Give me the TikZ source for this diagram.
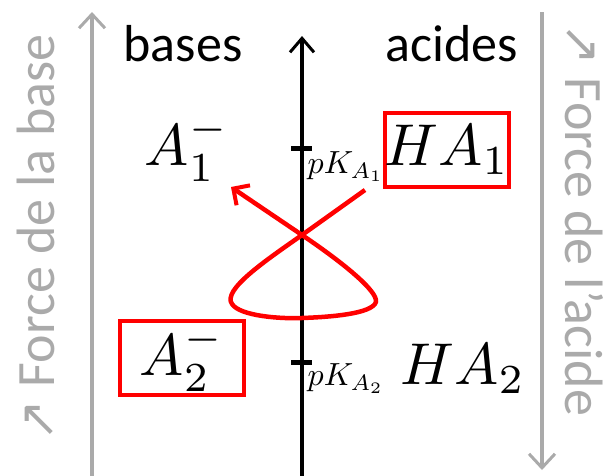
\documentclass[tikz,border=0pt]{standalone}
\usepackage{graphicx}
\usepackage{fontspec}
\setmainfont{Carlito}
\newfontfamily\arrowfont{DejaVu Sans}
\usetikzlibrary{arrows.meta}
\definecolor{axgray}{RGB}{170,170,170}
\definecolor{myred}{RGB}{255,0,0}
\newcommand{\speciesmath}[1]{\scalebox{5.9}{$#1$}}
\newcommand{\pkmath}[1]{\scalebox{3.2}{$#1$}}
\begin{document}
\begin{tikzpicture}[x=1pt,y=-1pt,
  lbl/.style={font=\fontsize{52}{60}\selectfont, inner sep=0pt},
  mth/.style={inner sep=0pt},
  pk/.style={inner sep=0pt},
  side/.style={font=\fontsize{54}{60}\selectfont, text=axgray, inner sep=0pt},
  redbox/.style={draw=myred, line width=4pt, minimum width=124pt, minimum height=74pt, inner sep=0pt},
  grayarrow/.style={draw=axgray, line width=4pt, -{Straight Barb[length=14pt,width=26pt,line width=3pt]}},
  blackarrow/.style={draw=black, line width=4pt, -{Straight Barb[length=14pt,width=24pt,line width=3pt]}},
  tick/.style={draw=black, line width=5pt},
  loop/.style={draw=myred, line width=4.5pt, line join=round, -{Straight Barb[length=12pt,width=24pt,line width=4pt]}}
]
\useasboundingbox (0,0) rectangle (611,475);
% grey arrows
\coordinate (lb) at (92,476);
\coordinate (lt) at (92,12);
\coordinate (rt) at (542,12);
\coordinate (rb) at (542,470);
\draw[grayarrow] (lb) -- (lt);
\draw[grayarrow] (rt) -- (rb);
% side labels
\node[side, rotate=90] (fbase) at (36,238) {{\arrowfont\fontsize{50}{56}\selectfont ↗} Force de la base};
\node[side, rotate=-90] (facide) at (584,220) {{\arrowfont\fontsize{50}{56}\selectfont ↗} Force de l’acide};
% central axis
\coordinate (ab) at (302,476);
\coordinate (at) at (302,36);
\draw[blackarrow] (ab) -- (at);
\coordinate (t1l) at (291,148);
\coordinate (t1r) at (312,148);
\coordinate (t2l) at (291,362);
\coordinate (t2r) at (312,362);
\draw[tick] (t1l) -- (t1r);
\draw[tick] (t2l) -- (t2r);
% headings
\node[lbl] (bases) at (183,44) {bases};
\node[lbl] (acides) at (452,44) {acides};
% species
\node[mth] (A1) at (187,148) {\speciesmath{A_1^-}};
\node[redbox, mth] (HA1) at (447,150) {\speciesmath{HA_1}};
\node[pk] (pK1) at (346,167) {\pkmath{pK_{A_1}}};
\node[redbox, mth] (A2) at (182,358) {\speciesmath{A_2^-}};
\node[mth] (HA2) at (463,369) {\speciesmath{HA_2}};
\node[pk] (pK2) at (346,379) {\pkmath{pK_{A_2}}};
% red loop
\coordinate (s) at (365,190);
\coordinate (x) at (302,235);
\coordinate (e) at (231,187);
\draw[loop] (s) -- (x) .. controls (265,261) and (222,290) .. (232,304)
  .. controls (240,316) and (280,319) .. (302,318)
  .. controls (330,317) and (372,314) .. (376,302)
  .. controls (378,291) and (342,262) .. (x) -- (e);
\end{tikzpicture}
\end{document}
